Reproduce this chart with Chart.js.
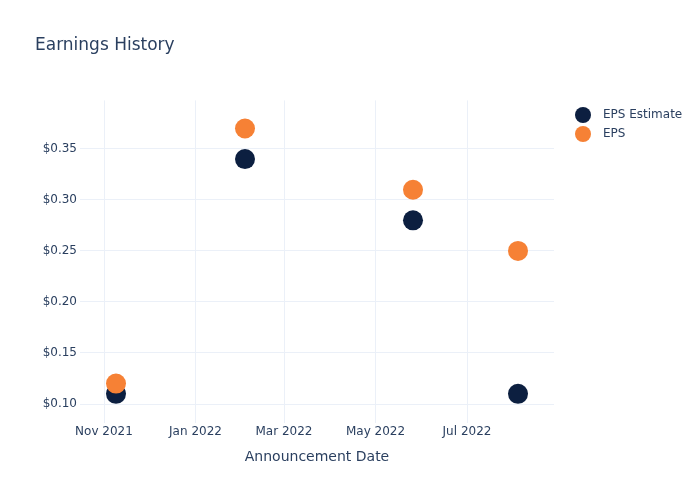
<!DOCTYPE html>
<html><head><meta charset="utf-8">
<script src="https://cdn.jsdelivr.net/npm/chart.js@4/dist/chart.umd.min.js"></script>
<style>html,body{margin:0;padding:0;background:#fff}</style>
</head><body>
<canvas id="c" width="700" height="500"></canvas>
<script>
const announcementDates = ["2021-11-09", "2022-02-03", "2022-05-26", "2022-08-04"];
const epsEstimate = [0.11, 0.34, 0.28, 0.11];
const epsActual = [0.12, 0.37, 0.31, 0.25];
const xTickDates = ["2021-11-01", "2022-01-01", "2022-03-01", "2022-05-01", "2022-07-01"];
const xTickLabels = ["Nov 2021", "Jan 2022", "Mar 2022", "May 2022", "Jul 2022"];
const yTickValues = [0.10, 0.15, 0.20, 0.25, 0.30, 0.35];
const xRange = ["2021-10-16", "2022-08-28"];
const yRange = [0.0812, 0.3975];

const toDay = s => Date.parse(s + "T00:00:00Z") / 86400000;
const TEXT = '#2a3f5f';
const GRID = '#ebf0f8';
const FONT = "'DejaVu Sans', Verdana, sans-serif";
Chart.defaults.font.family = FONT;
Chart.defaults.color = TEXT;

const sideLegend = {
  id: 'sideLegend',
  afterDraw(chart, args, opts) {
    const ctx = chart.ctx;
    ctx.save();
    ctx.font = "12px " + FONT;
    ctx.textBaseline = 'middle';
    ctx.textAlign = 'left';
    chart.data.datasets.forEach((ds, i) => {
      const y = opts.y + i * opts.rowHeight;
      ctx.beginPath();
      ctx.arc(opts.x, y, opts.radius, 0, Math.PI * 2);
      ctx.fillStyle = ds.backgroundColor;
      ctx.fill();
      ctx.fillStyle = TEXT;
      ctx.fillText(ds.label, opts.x + opts.textGap, y);
    });
    ctx.restore();
  }
};

const mkData = vals => announcementDates.map((d, i) => ({x: toDay(d), y: vals[i]}));

new Chart(document.getElementById('c'), {
  type: 'scatter',
  data: {
    datasets: [
      {label: 'EPS Estimate', data: mkData(epsEstimate), backgroundColor: '#0c1f40', borderWidth: 0, pointRadius: 10, pointHoverRadius: 10, order: 2},
      {label: 'EPS', data: mkData(epsActual), backgroundColor: '#f68135', borderWidth: 0, pointRadius: 10, pointHoverRadius: 10, order: 1}
    ]
  },
  plugins: [sideLegend],
  options: {
    responsive: false,
    animation: false,
    events: [],
    layout: {padding: {left: 35, right: 146, top: 0, bottom: 34.6}},
    plugins: {
      legend: {display: false},
      tooltip: {enabled: false},
      title: {
        display: true, text: 'Earnings History', align: 'start',
        color: TEXT, font: {size: 17, weight: 'normal', family: FONT},
        padding: {top: 35, bottom: 45}
      },
      sideLegend: {x: 583, y: 115, rowHeight: 19, radius: 8, textGap: 20}
    },
    scales: {
      x: {
        type: 'linear',
        min: toDay(xRange[0]), max: toDay(xRange[1]),
        afterBuildTicks: s => { s.ticks = xTickDates.map(d => ({value: toDay(d)})); },
        ticks: {
          padding: 1, color: TEXT, font: {size: 12}, maxRotation: 0, autoSkip: false,
          callback: v => { const i = xTickDates.findIndex(d => toDay(d) === v); return i >= 0 ? xTickLabels[i] : ''; }
        },
        grid: {color: GRID, lineWidth: 1, drawTicks: false},
        border: {display: false},
        title: {display: true, text: 'Announcement Date', color: TEXT, font: {size: 14}, padding: {top: 9, bottom: 0}}
      },
      y: {
        min: yRange[0], max: yRange[1],
        afterBuildTicks: s => { s.ticks = yTickValues.map(v => ({value: v})); },
        afterFit: s => { s.width = 45; },
        ticks: {
          padding: 3, color: TEXT, font: {size: 12},
          callback: v => '$' + v.toFixed(2)
        },
        grid: {color: GRID, lineWidth: 1, drawTicks: false},
        border: {display: false}
      }
    }
  }
});
</script>
</body></html>
